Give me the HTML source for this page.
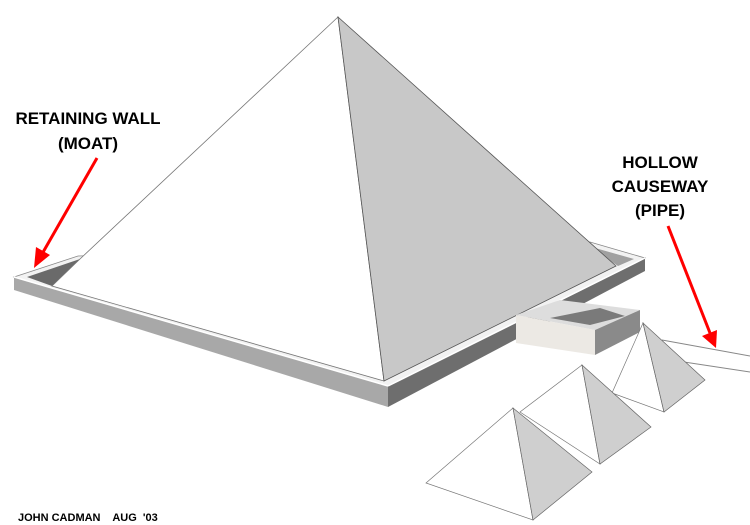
<!DOCTYPE html>
<html><head><style>
body{margin:0;background:#fff;}
svg{display:block;}
text{font-family:"Liberation Sans",Arial,sans-serif;font-weight:bold;fill:#000;}
</style></head><body>
<svg width="750" height="525" viewBox="0 0 750 525" xmlns="http://www.w3.org/2000/svg">
<!-- wall top surface -->
<polygon points="14,277 78,256 590,242 645,258 388,387" fill="#f2f2f2" stroke="#888" stroke-width="0.8"/>
<!-- inner moat shading left -->
<polygon points="27,277 80,259 52,286" fill="#6a6a6a"/>
<!-- inner moat right -->
<polygon points="588,246 634,259 618,266" fill="#a0a0a0"/>
<!-- main pyramid -->
<polygon points="338,17 80,259 52,286 384,381" fill="#fff" stroke="#777" stroke-width="0.8"/>
<polygon points="338,17 616,266 384,381" fill="#c8c8c8" stroke="#555" stroke-width="0.8"/>
<!-- front wall face -->
<polygon points="14,277 388,386 388,407 14,290" fill="#a8a8a8"/>
<!-- right wall face -->
<polygon points="388,386 645,258 645,271 388,407" fill="#6e6e6e"/>
<line x1="14" y1="277" x2="388" y2="386" stroke="#fff" stroke-width="1.5"/>
<line x1="388" y1="386" x2="645" y2="258" stroke="#fff" stroke-width="1.5"/>
<!-- temple -->
<polygon points="516,315 560,300 640,310 595,330" fill="#ddd"/>
<polygon points="516,315 595,330 595,355 516,343" fill="#ece9e4"/>
<polygon points="595,330 640,310 640,332 595,355" fill="#8a8a8a"/>
<polygon points="550,318 600,308 625,316 590,325" fill="#7a7a7a"/>
<!-- causeway -->
<line x1="662" y1="340" x2="750" y2="356" stroke="#888" stroke-width="1"/>
<line x1="684" y1="362" x2="750" y2="372" stroke="#888" stroke-width="1"/>
<!-- small pyramid 3 -->
<polygon points="643,323 612,393 664,412" fill="#fff" stroke="#777" stroke-width="0.7"/>
<polygon points="643,323 705,380 664,412" fill="#cfcfcf" stroke="#666" stroke-width="0.7"/>
<!-- small pyramid 2 -->
<polygon points="582,365 520,412 600,464" fill="#fff" stroke="#777" stroke-width="0.7"/>
<polygon points="582,365 651,427 600,464" fill="#cfcfcf" stroke="#666" stroke-width="0.7"/>
<!-- small pyramid 1 -->
<polygon points="513,408 426,483 533,520" fill="#fff" stroke="#777" stroke-width="0.7"/>
<polygon points="513,408 592,472 533,520" fill="#cfcfcf" stroke="#666" stroke-width="0.7"/>
<!-- arrows -->
<line x1="97" y1="158" x2="42" y2="254" stroke="#f00" stroke-width="3"/>
<polygon points="34,268 36,247 50,255" fill="#f00"/>
<line x1="668" y1="226" x2="710" y2="333" stroke="#f00" stroke-width="3"/>
<polygon points="716,348 702,336 717,330" fill="#f00"/>
<!-- labels -->
<text x="88" y="124" font-size="17" text-anchor="middle">RETAINING WALL</text>
<text x="88" y="149" font-size="17" text-anchor="middle">(MOAT)</text>
<text x="660" y="168" font-size="17" text-anchor="middle">HOLLOW</text>
<text x="660" y="192" font-size="17" text-anchor="middle">CAUSEWAY</text>
<text x="660" y="216" font-size="17" text-anchor="middle">(PIPE)</text>
<text x="18" y="521" font-size="11" xml:space="preserve">JOHN CADMAN    AUG  '03</text>
</svg>
</body></html>
